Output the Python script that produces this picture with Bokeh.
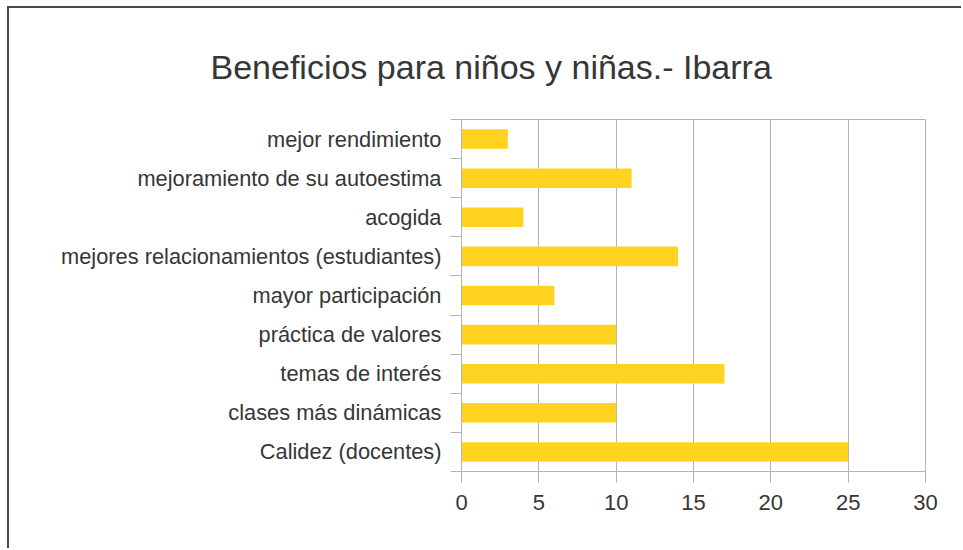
from bokeh.plotting import figure
from bokeh.models import Range1d, LinearAxis, FixedTicker, Title
from bokeh.embed import file_html
from bokeh.resources import INLINE

categories = ["Calidez (docentes)", "clases más dinámicas", "temas de interés",
              "práctica de valores", "mayor participación",
              "mejores relacionamientos (estudiantes)", "acogida",
              "mejoramiento de su autoestima", "mejor rendimiento"]
values = [25, 10, 17, 10, 6, 14, 4, 11, 3]
x_ticks = [0, 5, 10, 15, 20, 25, 30]
title_text = "Beneficios para niños y niñas.- Ibarra"

FONT = "Liberation Sans"
TXT = "#363636"
GRID = "#b3b3b3"

n = len(categories)
centers = [i + 0.5 for i in range(n)]
bounds = list(range(n + 1))

p = figure(width=954, height=542, y_range=Range1d(0, n),
           x_range=Range1d(0, 30), output_backend="svg", toolbar_location=None,
           min_border_left=452, min_border_right=38, min_border_top=111,
           min_border_bottom=79, y_axis_location=None, x_axis_location=None)
p.styles = {"border-top": "2px solid #4a4a4a", "border-left": "2px solid #4a4a4a",
            "margin-left": "7px", "margin-top": "6px"}

p.hbar(y=centers, right=values, left=0, height=0.5, color="#FFD320", line_color=None)

p.outline_line_color = GRID
p.outline_line_width = 1
p.ygrid.visible = False
p.xgrid.ticker = FixedTicker(ticks=x_ticks)
p.xgrid.grid_line_color = GRID

# x axis
xa = LinearAxis(ticker=FixedTicker(ticks=x_ticks, minor_ticks=[]))
xa.axis_line_color = GRID
xa.major_tick_line_color = GRID
xa.major_tick_in = 0
xa.major_tick_out = 11
xa.minor_tick_line_color = None
xa.major_label_text_font = FONT
xa.major_label_text_font_size = "22px"
xa.major_label_text_color = TXT
xa.major_label_standoff = 12
p.add_layout(xa, "below")

# category axis: labels at centres, ticks (minor) at category boundaries
ca = LinearAxis(ticker=FixedTicker(ticks=centers, minor_ticks=bounds))
ca.major_label_overrides = {c: lab for c, lab in zip(centers, categories)}
ca.axis_line_color = GRID
ca.major_tick_line_color = None
ca.major_tick_in = 0
ca.major_tick_out = 0
ca.minor_tick_line_color = GRID
ca.minor_tick_in = 0
ca.minor_tick_out = 11
ca.major_label_text_font = FONT
ca.major_label_text_font_size = "21.8px"
ca.major_label_text_color = TXT
ca.major_label_standoff = 9
p.add_layout(ca, "left")

t = Title(text=title_text, text_font=FONT, text_font_size="34px",
          text_font_style="normal", text_color=TXT, align="left", offset=-251,
          standoff=68)
p.add_layout(t, "above")

open("out.html", "w").write(file_html(p, INLINE))
